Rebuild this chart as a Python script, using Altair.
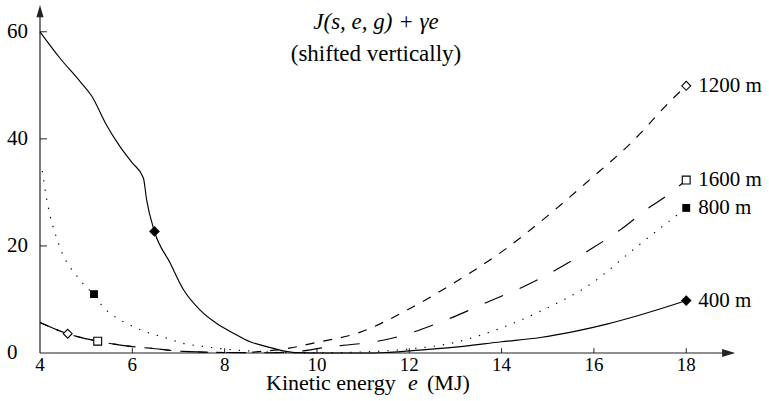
import altair as alt
import pandas as pd

# ---------------- data ----------------
E_400 = [4.0, 4.43, 4.87, 5.12, 5.44, 5.73, 6.0, 6.24, 6.31, 6.48, 6.82, 7.11, 7.47, 7.83,
         8.19, 8.55, 8.91, 9.27, 9.56, 10.0, 11.0, 11.5, 12.0, 13.0, 14.0, 14.84, 15.56,
         16.28, 17.0, 17.72, 18.0]
J_400 = [60.0, 55.1, 50.7, 48.0, 42.6, 38.6, 35.5, 32.7, 28.6, 22.7, 16.8, 11.8, 8.0, 5.5,
         3.7, 2.1, 1.2, 0.4, 0.06, 0.0, 0.0, 0.1, 0.4, 1.1, 2.1, 2.9, 4.0,
         5.4, 7.1, 9.0, 9.8]

E_800 = [4.05, 4.15, 4.4, 4.87, 5.17, 5.3, 6.0, 6.38, 6.74, 7.1, 7.47, 7.83, 8.55, 9.27,
         10.0, 11.0, 12.0, 13.0, 13.5, 14.84, 16.0, 16.85, 18.0]
J_800 = [34.0, 28.5, 20.5, 13.6, 10.8, 9.3, 5.0, 3.7, 2.8, 1.8, 1.3, 0.9, 0.37, 0.1,
         0.05, 0.2, 0.75, 2.0, 3.2, 7.8, 13.3, 19.3, 27.1]

E_1200 = [4.0, 4.6, 5.2, 6.0, 6.38, 7.1, 8.0, 8.4, 8.8, 9.4, 9.9, 10.94, 11.95, 12.95,
          13.97, 14.84, 15.9, 16.8, 17.72, 18.0]
J_1200 = [5.7, 3.6, 2.3, 1.2, 0.9, 0.3, 0.1, 0.1, 0.3, 0.9, 1.8, 3.9, 8.0, 13.0,
          18.7, 24.5, 32.3, 39.2, 47.6, 49.9]

E_1600 = [4.0, 4.6, 5.25, 6.0, 6.38, 7.1, 8.0, 9.0, 9.7, 10.3, 10.65, 11.25, 11.65, 12.8,
          13.8, 14.55, 15.97, 16.57, 17.22, 17.55, 18.0]
J_1600 = [5.7, 3.6, 2.2, 1.2, 0.9, 0.3, 0.1, 0.05, 0.4, 1.2, 1.5, 2.1, 2.8, 6.2,
          9.9, 12.7, 19.6, 23.0, 27.3, 29.2, 32.3]

SERIES = ["400 m", "800 m", "1200 m", "1600 m"]
MID_E = [6.48, 5.17, 4.6, 5.25]
MID_J = [22.7, 11.0, 3.6, 2.2]
END_E = [18.0, 18.0, 18.0, 18.0]
END_J = [9.8, 27.1, 49.9, 32.3]

X_TICKS = [4, 6, 8, 10, 12, 14, 16, 18]
Y_TICKS = [0, 20, 40, 60]

TITLE_1 = "J(s, e, g) + γe"
TITLE_2 = "(shifted vertically)"
XTITLE = ["Kinetic energy", "e", "(MJ)"]

# ---------------- styling ----------------
FONT = "Liberation Serif"
AXC = "#222222"
xs = alt.Scale(domain=[4, 19.1], nice=False, zero=False)
ys = alt.Scale(domain=[0, 65], nice=False, zero=False)

styles = {
    "400 m": dict(dash=None, shape="diamond", filled=True, size=115),
    "800 m": dict(dash=[1.3, 8], shape="square", filled=True, size=62),
    "1200 m": dict(dash=[9, 9], shape="diamond", filled=False, size=80),
    "1600 m": dict(dash=[20, 18], shape="square", filled=False, size=62),
}
curves = {"400 m": (E_400, J_400), "800 m": (E_800, J_800),
          "1200 m": (E_1200, J_1200), "1600 m": (E_1600, J_1600)}

layers = []

# axis lines
xaxis_df = pd.DataFrame({"x": [4.0], "x2": [19.0], "y": [0.0]})
layers.append(alt.Chart(xaxis_df).mark_rule(color=AXC, strokeWidth=1.2).encode(
    x=alt.X("x:Q", scale=xs, axis=None), x2="x2:Q", y=alt.Y("y:Q", scale=ys, axis=None)))
yaxis_df = pd.DataFrame({"x": [4.0], "y": [0.0], "y2": [64.0]})
layers.append(alt.Chart(yaxis_df).mark_rule(color=AXC, strokeWidth=1.2).encode(
    x=alt.X("x:Q", scale=xs, axis=None), y=alt.Y("y:Q", scale=ys, axis=None), y2="y2:Q"))

# arrow heads
layers.append(alt.Chart(pd.DataFrame({"x": [19.06], "y": [0.0]})).mark_point(
    shape="M0,0L-2,-0.62L-2,0.62Z", filled=True, color=AXC, opacity=1, size=169,
    strokeWidth=0).encode(x=alt.X("x:Q", scale=xs, axis=None), y=alt.Y("y:Q", scale=ys, axis=None)))
layers.append(alt.Chart(pd.DataFrame({"x": [4.0], "y": [65.0]})).mark_point(
    shape="M0,0L-0.58,2L0.58,2Z", filled=True, color=AXC, opacity=1, size=150,
    strokeWidth=0).encode(x=alt.X("x:Q", scale=xs, axis=None), y=alt.Y("y:Q", scale=ys, axis=None)))

# ticks
xt = pd.DataFrame({"x": [t for t in X_TICKS if t != 4]})
xt["y"] = 0.0
xt["y2"] = 0.9
layers.append(alt.Chart(xt).mark_rule(color=AXC, strokeWidth=1).encode(
    x=alt.X("x:Q", scale=xs, axis=None), y=alt.Y("y:Q", scale=ys, axis=None), y2="y2:Q"))
yt = pd.DataFrame({"y": [t for t in Y_TICKS if t != 0]})
yt["x"] = 4.0
yt["x2"] = 4.15
layers.append(alt.Chart(yt).mark_rule(color=AXC, strokeWidth=1).encode(
    x=alt.X("x:Q", scale=xs, axis=None), x2="x2:Q", y=alt.Y("y:Q", scale=ys, axis=None)))

# tick labels
xl = pd.DataFrame({"x": X_TICKS, "lab": [str(t) for t in X_TICKS]})
xl["y"] = 0.0
layers.append(alt.Chart(xl).mark_text(font=FONT, fontSize=19, align="center",
                                      baseline="alphabetic", dy=18, color="black").encode(
    x=alt.X("x:Q", scale=xs, axis=None), y=alt.Y("y:Q", scale=ys, axis=None), text="lab:N"))
yl = pd.DataFrame({"y": Y_TICKS, "lab": [str(t) for t in Y_TICKS]})
layers.append(alt.Chart(yl).mark_text(font=FONT, fontSize=21, align="left",
                                      baseline="middle", color="black").encode(
    x=alt.value(-33), y=alt.Y("y:Q", scale=ys, axis=None), text="lab:N"))

# curves
for s in SERIES:
    e, j = curves[s]
    df = pd.DataFrame({"e": e, "J": j})
    kw = dict(color="black", strokeWidth=1.15, interpolate="monotone")
    if styles[s]["dash"] is not None:
        kw["strokeDash"] = styles[s]["dash"]
    layers.append(alt.Chart(df).mark_line(**kw).encode(
        x=alt.X("e:Q", scale=xs, axis=None), y=alt.Y("J:Q", scale=ys, axis=None)))

# markers
for i, s in enumerate(SERIES):
    st = styles[s]
    df = pd.DataFrame({"e": [MID_E[i], END_E[i]], "J": [MID_J[i], END_J[i]]})
    if st["filled"]:
        mk = alt.Chart(df).mark_point(shape=st["shape"], filled=True, color="black",
                                      opacity=1, size=st["size"], strokeWidth=0)
    else:
        mk = alt.Chart(df).mark_point(shape=st["shape"], filled=True, fill="white",
                                      stroke="black", strokeWidth=1.1, opacity=1,
                                      size=st["size"])
    layers.append(mk.encode(x=alt.X("e:Q", scale=xs, axis=None),
                            y=alt.Y("J:Q", scale=ys, axis=None)))

# series labels on the right
lab_df = pd.DataFrame({"e": END_E, "J": END_J, "lab": SERIES})
layers.append(alt.Chart(lab_df).mark_text(font=FONT, fontSize=21, align="left",
                                          baseline="middle", dx=12, color="black").encode(
    x=alt.X("e:Q", scale=xs, axis=None), y=alt.Y("J:Q", scale=ys, axis=None), text="lab:N"))

# title (inside the plot)
layers.append(alt.Chart(pd.DataFrame({"t": [TITLE_1]})).mark_text(
    font=FONT, fontSize=23, fontStyle="italic", align="center", baseline="alphabetic",
    color="black").encode(x=alt.value(336), y=alt.value(24), text="t:N"))
layers.append(alt.Chart(pd.DataFrame({"t": [TITLE_2]})).mark_text(
    font=FONT, fontSize=23, align="center", baseline="alphabetic",
    color="black").encode(x=alt.value(336), y=alt.value(56), text="t:N"))

# x-axis title (mixed upright / italic)
for txt, xpos, style in [(XTITLE[0], 226, "normal"), (XTITLE[1], 368, "italic"),
                         (XTITLE[2], 387, "normal")]:
    layers.append(alt.Chart(pd.DataFrame({"t": [txt]})).mark_text(
        font=FONT, fontSize=22, fontStyle=style, align="left", baseline="alphabetic",
        color="black").encode(x=alt.value(xpos), y=alt.value(385), text="t:N"))

chart = alt.layer(*layers).properties(
    width=697, height=348,
    padding={"left": 40, "top": 5, "right": 32, "bottom": 48},
    autosize=alt.AutoSizeParams(type="none"),
    background="white",
).configure_view(stroke=None)

chart.save("out.html", embed_options={"renderer": "svg", "actions": False})
